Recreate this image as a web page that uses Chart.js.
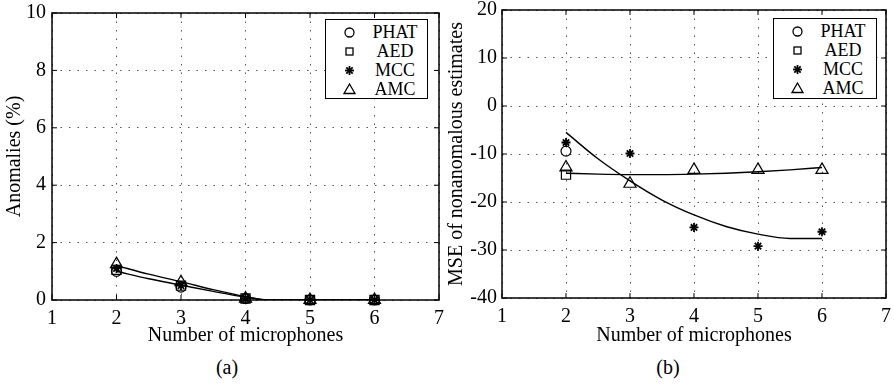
<!DOCTYPE html>
<html>
<head>
<meta charset="utf-8">
<script src="https://cdn.jsdelivr.net/npm/chart.js@4/dist/chart.umd.min.js"></script>
<style>
  html, body { margin: 0; padding: 0; background: #fff; }
  body { width: 894px; height: 385px; position: relative; overflow: hidden;
         font-family: 'Liberation Serif', 'Times New Roman', serif; color: #000; }
  .panel { position: absolute; top: -10px; }
  .legend { position: absolute; border: 1.5px solid #000; background: #fff; box-sizing: border-box; }
  .legend .row { position: absolute; left: 0; right: 0; height: 19px; }
  .legend svg { position: absolute; left: 16px; top: 2px; width: 15px; height: 15px; overflow: visible; }
  .legend span { position: absolute; left: 40px; width: 58px; text-align: center; top: -2px;
                 font-size: 18px; line-height: 22px; }
  .caption { position: absolute; font-size: 20px; line-height: 20px; width: 60px; text-align: center; top: 357px; }
</style>
</head>
<body>
<canvas id="chartA" class="panel" style="left:0px" width="454" height="360"></canvas>
<canvas id="chartB" class="panel" style="left:444px" width="457" height="360"></canvas>
<div id="legendA" class="legend" style="left:325px; top:19px; width:103px; height:80px;"></div>
<div id="legendB" class="legend" style="left:773px; top:18px; width:104px; height:81px;"></div>
<div class="caption" style="left:197px">(a)</div>
<div class="caption" style="left:638px">(b)</div>

<script>
// ---- data ----
const methods = ['PHAT', 'AED', 'MCC', 'AMC'];
const markers = ['circle', 'rect', 'star', 'triangle'];
const mics = [2, 3, 4, 5, 6];
const xTicks = [1, 2, 3, 4, 5, 6, 7];

// (a) anomaly rate, percent
const anomPHAT = [1.0, 0.45, 0.05, 0, 0];
const anomAED  = [1.05, 0.5, 0.05, 0, 0];
const anomMCC  = [1.1, 0.5, 0.05, 0, 0];
const anomAMC  = [1.25, 0.62, 0.05, 0, 0];
// smooth trend curves for (a)
const fitXA     = [2, 2.5, 3, 3.5, 4, 4.35, 5, 6];
const fitAUpper = [1.2, 0.9, 0.64, 0.36, 0.12, 0, 0, 0];
const fitALower = [1.0, 0.74, 0.52, 0.3, 0.1, 0, 0, 0];

// (b) MSE of non-anomalous estimates
const msePHAT = [-9.4, null, null, null, null];
const mseAED  = [-14.3, null, null, null, null];
const mseMCC  = [-7.6, -9.9, -25.3, -29.2, -26.2];
const mseAMC  = [-12.8, -16.2, -13.3, -13.3, -13.3];
// trend curves for (b)
const fitXB   = [2, 2.5, 3, 3.5, 4, 4.5, 5, 5.5, 6];
const fitBMCC = [-5.5, -11.0, -15.6, -19.6, -22.7, -25.1, -26.7, -27.6, -27.6];
const fitBAMC = [-14.0, -14.2, -14.3, -14.3, -14.2, -14.0, -13.7, -13.3, -12.8];

// ---- helpers ----
const FONT = "'Liberation Serif', 'Times New Roman', serif";
const pts = (xs, ys) => xs.map((x, i) => ({ x, y: ys[i] }));
const radii = { circle: 5, rect: 6.5, star: 4.5, triangle: 7 };

function markerSet(label, style, ys) {
  return {
    label, data: pts(mics, ys), showLine: false, clip: false,
    pointStyle: style, pointRadius: radii[style],
    borderColor: '#000', backgroundColor: 'rgba(0,0,0,0)',
    pointBorderWidth: style === 'star' ? 1.8 : 1.2
  };
}
function curveSet(xs, ys) {
  return {
    label: '', data: pts(xs, ys), showLine: true, pointRadius: 0,
    borderColor: '#000', borderWidth: 1.4, cubicInterpolationMode: 'monotone',
    fill: false
  };
}

// plot frame with inward ticks on all four sides
const framePlugin = {
  id: 'frame',
  beforeDatasetsDraw(chart) {
    const { ctx, chartArea: a, scales: { x, y } } = chart;
    ctx.save();
    ctx.strokeStyle = '#000';
    ctx.lineWidth = 1;
    const t = 5;
    ctx.beginPath();
    x.ticks.forEach(tk => {
      const px = x.getPixelForValue(tk.value);
      ctx.moveTo(px, a.bottom); ctx.lineTo(px, a.bottom - t);
      ctx.moveTo(px, a.top); ctx.lineTo(px, a.top + t);
    });
    y.ticks.forEach(tk => {
      const py = y.getPixelForValue(tk.value);
      ctx.moveTo(a.left, py); ctx.lineTo(a.left + t, py);
      ctx.moveTo(a.right, py); ctx.lineTo(a.right - t, py);
    });
    ctx.stroke();
    ctx.lineWidth = 1.5;
    ctx.strokeRect(a.left, a.top, a.right - a.left, a.bottom - a.top);
    ctx.restore();
  }
};

function makeChart(id, datasets, cfg) {
  return new Chart(document.getElementById(id), {
    type: 'scatter',
    data: { datasets },
    options: {
      responsive: false, animation: false, devicePixelRatio: 1,
      layout: { padding: cfg.padding },
      plugins: { legend: { display: false }, tooltip: { enabled: false } },
      scales: {
        x: {
          type: 'linear', min: 1, max: 7,
          afterBuildTicks: s => { s.ticks = xTicks.map(v => ({ value: v })); },
          afterFit: s => { s.height = cfg.xHeight; },
          grid: { color: '#555', lineWidth: 1, drawTicks: false },
          border: { display: false, dash: [1.5, 7] },
          ticks: { color: '#000', padding: 9, font: { family: FONT, size: 20, lineHeight: 1 } },
          title: { display: true, text: 'Number of microphones', color: '#000',
                   padding: { top: 0, bottom: 0 }, font: { family: FONT, size: 20, lineHeight: 1 } }
        },
        y: {
          type: 'linear', min: cfg.yMin, max: cfg.yMax,
          ticks: { stepSize: cfg.yStep, color: '#000', padding: cfg.yTickPad,
                   font: { family: FONT, size: 20, lineHeight: 1 }, callback: v => String(v) },
          afterFit: s => { s.width = cfg.yWidth; },
          grid: { color: '#555', lineWidth: 1, drawTicks: false },
          border: { display: false, dash: [1.5, 7] },
          title: { display: true, text: cfg.yTitle, color: '#000',
                   padding: { top: cfg.yTitlePad, bottom: 0 }, font: { family: FONT, size: 20, lineHeight: 1 } }
        }
      }
    },
    plugins: [framePlugin]
  });
}

// (a)
makeChart('chartA', [
  curveSet(fitXA, fitAUpper),
  curveSet(fitXA, fitALower),
  markerSet(methods[0], markers[0], anomPHAT),
  markerSet(methods[1], markers[1], anomAED),
  markerSet(methods[2], markers[2], anomMCC),
  markerSet(methods[3], markers[3], anomAMC)
], { padding: { left: 0, top: 23, right: 15, bottom: 4 }, xHeight: 46, yWidth: 52,
     yMin: 0, yMax: 10, yStep: 2, yTickPad: 6, yTitle: 'Anomalies (%)', yTitlePad: 5 });

// (b)
makeChart('chartB', [
  curveSet(fitXB, fitBMCC),
  curveSet(fitXB, fitBAMC),
  markerSet(methods[0], markers[0], msePHAT),
  markerSet(methods[1], markers[1], mseAED),
  markerSet(methods[2], markers[2], mseMCC),
  markerSet(methods[3], markers[3], mseAMC)
], { padding: { left: 0, top: 20, right: 15, bottom: 4 }, xHeight: 48, yWidth: 58,
     yMin: -40, yMax: 20, yStep: 10, yTickPad: 5, yTitle: 'MSE of nonanomalous estimates', yTitlePad: 3 });

// ---- legends ----
function markerSvg(style) {
  const s = 'fill="none" stroke="#000"';
  if (style === 'circle') return `<circle cx="7.5" cy="7.5" r="4.5" ${s} stroke-width="1.3"/>`;
  if (style === 'rect') return `<rect x="4" y="4" width="7" height="7" ${s} stroke-width="1.3"/>`;
  if (style === 'triangle') return `<polygon points="7.5,2 13,11.5 2,11.5" ${s} stroke-width="1.3"/>`;
  // asterisk
  return `<g stroke="#000" stroke-width="1.8"><line x1="7.5" y1="3" x2="7.5" y2="12"/>
          <line x1="3" y1="7.5" x2="12" y2="7.5"/><line x1="4.3" y1="4.3" x2="10.7" y2="10.7"/>
          <line x1="4.3" y1="10.7" x2="10.7" y2="4.3"/></g>`;
}
function buildLegend(id) {
  const box = document.getElementById(id);
  methods.forEach((name, i) => {
    const row = document.createElement('div');
    row.className = 'row';
    row.style.top = (3 + i * 19) + 'px';
    row.innerHTML = `<svg viewBox="0 0 15 15">${markerSvg(markers[i])}</svg><span>${name}</span>`;
    box.appendChild(row);
  });
}
buildLegend('legendA');
buildLegend('legendB');
</script>
</body>
</html>
